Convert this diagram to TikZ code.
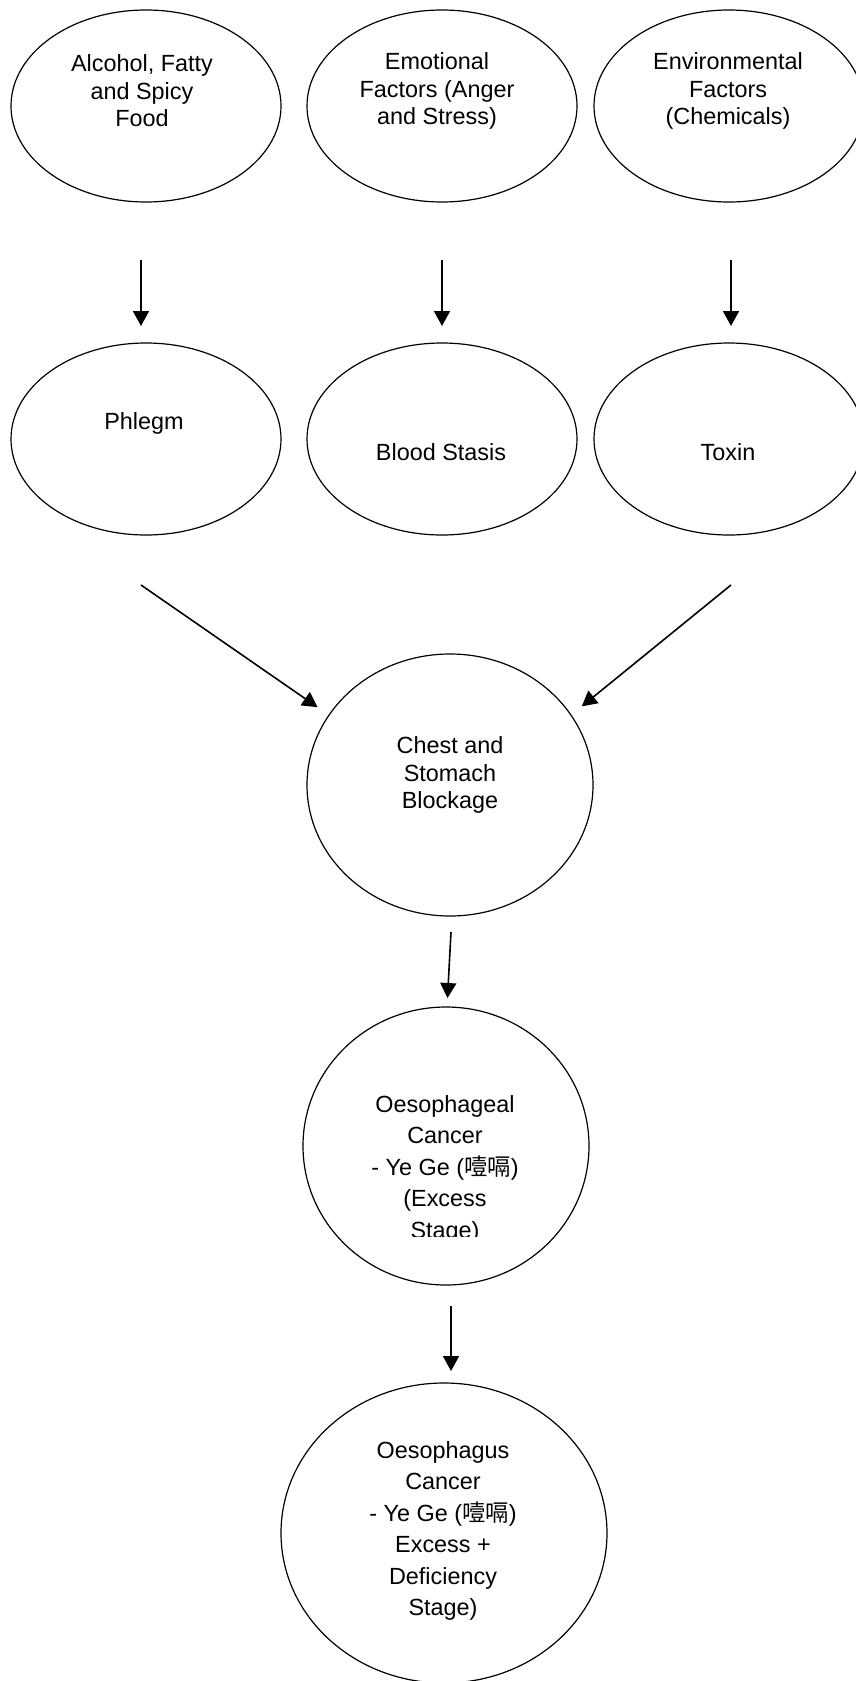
\documentclass[tikz,border=0pt]{standalone}
\usepackage{fontspec}
\setmainfont{Liberation Sans}
\newfontfamily\cjk{Noto Sans CJK SC}
\usetikzlibrary{shapes.geometric,arrows.meta}
\tikzset{
	blob/.style={draw, ellipse, line width=1.2pt, inner sep=0pt, outer sep=0pt},
	lbl/.style={align=center, inner sep=0pt, font=\fontsize{23.4}{27.5}\selectfont},
	lbltall/.style={lbl, font=\fontsize{23.4}{31.5}\selectfont},
	arr/.style={-{Triangle[length=15pt,width=16pt]}, line width=1.6pt},
}
\begin{document}
\begin{tikzpicture}[x=1pt,y=-1pt]
			\useasboundingbox (0,0) rectangle (855,1681);
			\node[blob, minimum width=270pt, minimum height=192pt] (alc) at (146,106) {};
			\node[blob, minimum width=270pt, minimum height=192pt] (emo) at (442,106) {};
			\node[blob, minimum width=270pt, minimum height=192pt] (env) at (729,106) {};
			\node[blob, minimum width=270pt, minimum height=192pt] (phl) at (146,439) {};
			\node[blob, minimum width=270pt, minimum height=192pt] (bld) at (442,439) {};
			\node[blob, minimum width=270pt, minimum height=192pt] (tox) at (729,439) {};
			\node[blob, minimum width=286pt, minimum height=262pt] (chest) at (450,785) {};
			\node[blob, minimum width=286pt, minimum height=278pt] (oes) at (446,1146) {};
			\node[blob, minimum width=326pt, minimum height=300pt] (oesd) at (444,1533) {};
			\node[lbl] (alc-t) at (142,91) {Alcohol, Fatty\\and Spicy\\Food};
			\node[lbl] (emo-t) at (437,91) {Emotional\\Factors (Anger\\and Stress)};
			\node[lbl] (env-t) at (728,91) {Environmental\\Factors\\(Chemicals)};
			\node[lbl] (phl-t) at (144,423) {Phlegm};
			\node[lbl] (bld-t) at (441,452) {Blood Stasis};
			\node[lbl] (tox-t) at (728,452) {Toxin};
			\node[lbl] (chest-t) at (450,775) {Chest and\\Stomach\\Blockage};
			\begin{scope}
				\clip (300,1000) rectangle (600,1236);
				\node[lbltall] (oes-t) at (445,1169) {Oesophageal\\Cancer\\- Ye Ge ({\cjk 噎嗝})\\(Excess\\Stage)};
			\end{scope}
			\node[lbltall] (oesd-t) at (443,1531) {Oesophagus\\Cancer\\- Ye Ge ({\cjk 噎嗝})\\Excess +\\Deficiency\\Stage)};
			\draw[arr, shorten >=17pt] (alc.south) ++(-5,58) -- ([xshift=-5pt]phl.north);
			\draw[arr, shorten >=17pt] (emo.south) ++(0,58) -- (bld.north);
			\draw[arr, shorten >=17pt] (env.south) ++(2,58) -- ([xshift=2pt]tox.north);
			\draw[arr, shorten >=14pt] (phl.south) ++(-5,50) -- (chest.150);
			\draw[arr, shorten >=14pt] (tox.south) ++(2,50) -- (chest.30);
			\draw[arr, shorten >=9pt] (chest.south) ++(1,16) -- ([xshift=1pt]oes.north);
			\draw[arr, shorten >=12pt] (oes.south) ++(5,21) -- ([xshift=7pt]oesd.north);
\end{tikzpicture}
\end{document}
